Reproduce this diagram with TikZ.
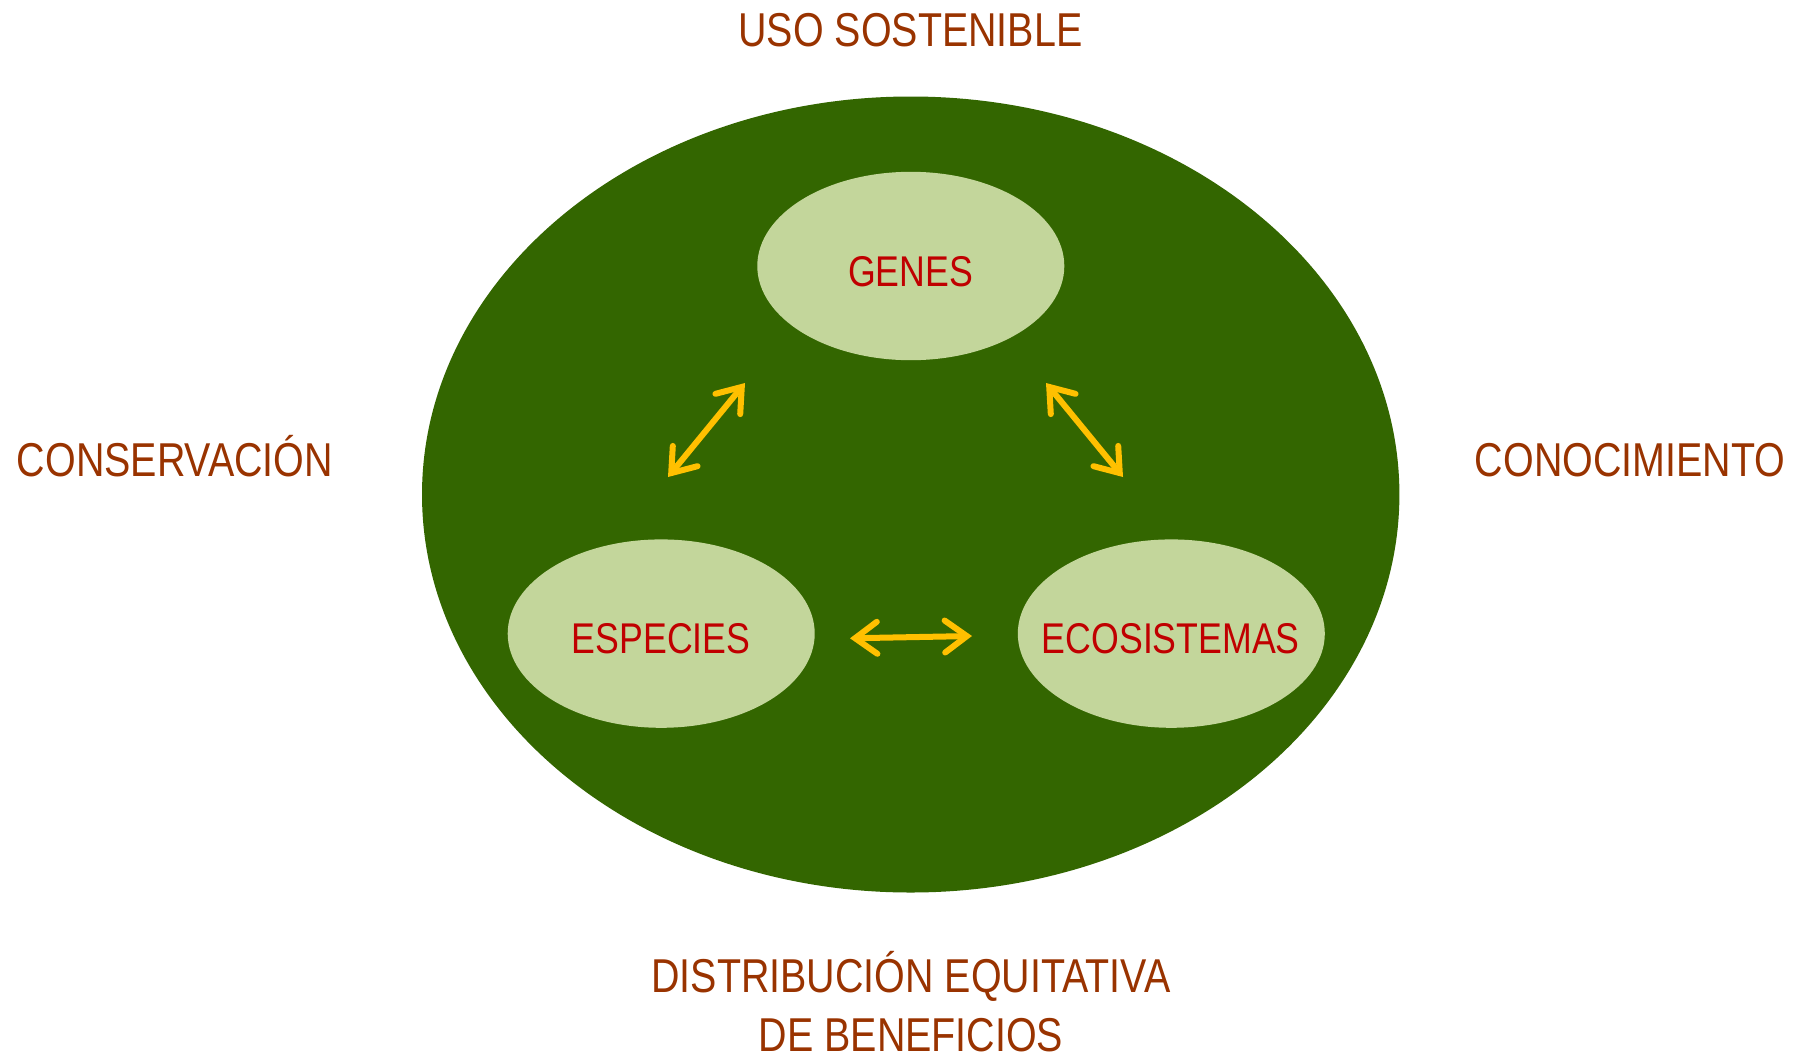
\documentclass[tikz,border=0pt]{standalone}
\usepackage{fontspec}
\newfontfamily\narrowfont[FakeStretch=0.83]{Liberation Sans}
\usetikzlibrary{arrows.meta}
\definecolor{labelbrown}{HTML}{993300}
\definecolor{innerred}{HTML}{C00000}
\definecolor{darkgreen}{HTML}{336600}
\definecolor{lightgreen}{HTML}{C3D69B}
\definecolor{arrowyellow}{HTML}{FFC000}
\tikzset{
  outerlabel/.style={anchor=base, inner sep=0pt, text=labelbrown, font=\narrowfont\fontsize{47.5}{58}\selectfont},
  innerlabel/.style={anchor=base, inner sep=0pt, text=innerred, font=\narrowfont\fontsize{43}{52}\selectfont},
  smallellipse/.style={fill=lightgreen, draw=none},
  linkarrow/.style={draw=arrowyellow, line width=6pt, line cap=round,
    {Straight Barb[length=22pt,width=32pt,line cap=round]}-{Straight Barb[length=22pt,width=32pt,line cap=round]}}
}
\begin{document}
\begin{tikzpicture}[x=1pt,y=-1pt]
\useasboundingbox (0,0) rectangle (1803,1055);
% big ellipse
\fill[darkgreen] (910.7,494.5) ellipse [x radius=488.7, y radius=398];
% small ellipses
\fill[smallellipse] (910.8,266) ellipse [x radius=153.5, y radius=94.2];
\fill[smallellipse] (661.2,633.6) ellipse [x radius=153.5, y radius=94.2];
\fill[smallellipse] (1171.3,633.6) ellipse [x radius=153.5, y radius=94.2];
% inner labels
\node[innerlabel] (genes) at (910.6,286) {GENES};
\node[innerlabel] (especies) at (661.2,653.5) {ESPECIES};
\node[innerlabel] (ecosistemas) at (1170.8,653.5) {ECOSISTEMAS};
% arrows
\coordinate (a1s) at (668,477);
\coordinate (a1e) at (745,383);
\coordinate (a2s) at (1046,383);
\coordinate (a2e) at (1123,477);
\coordinate (a3s) at (850,638.3);
\coordinate (a3e) at (972,636);
\draw[linkarrow] (a1s) -- (a1e);
\draw[linkarrow] (a2s) -- (a2e);
\draw[linkarrow] (a3s) -- (a3e);
% outer labels
\node[outerlabel] (uso) at (910.5,46) {USO SOSTENIBLE};
\node[outerlabel] (cons) at (175,476) {CONSERVACIÓN};
\node[outerlabel] (cono) at (1630,476) {CONOCIMIENTO};
\node[outerlabel] (dist1) at (911,992.5) {DISTRIBUCIÓN EQUITATIVA};
\node[outerlabel] (dist2) at (911,1051) {DE BENEFICIOS};
\end{tikzpicture}
\end{document}
